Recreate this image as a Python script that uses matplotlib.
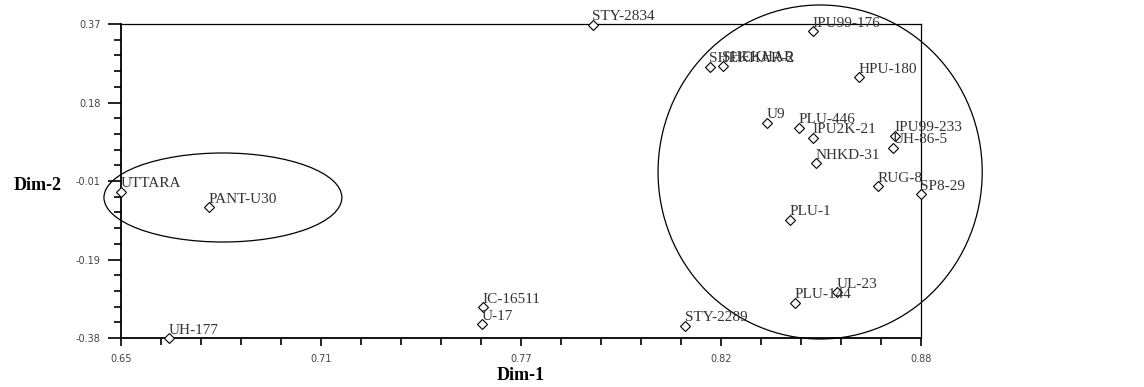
import numpy as np
import matplotlib.pyplot as plt
from matplotlib.patches import Ellipse
from matplotlib.ticker import AutoMinorLocator

# genotype scores on the first two dimensions
names = ['STY-2834', 'IPU99-176', 'SHEKHAR-2', 'SHEKHAR', 'HPU-180', 'U9', 'PLU-446',
         'IPU2K-21', 'IPU99-233', 'UH-86-5', 'NHKD-31', 'RUG-8', 'SP8-29', 'PLU-1',
         'UL-23', 'PLU-144', 'STY-2289', 'IC-16511', 'U-17', 'UH-177', 'UTTARA', 'PANT-U30']
dim1 = [0.7857, 0.8490, 0.8193, 0.8230, 0.8622, 0.8357, 0.8449,
        0.8490, 0.8725, 0.8720, 0.8498, 0.8676, 0.8800, 0.8423,
        0.8559, 0.8438, 0.8122, 0.7541, 0.7538, 0.6638, 0.6500, 0.6753]
dim2 = [0.368, 0.353, 0.268, 0.270, 0.243, 0.134, 0.122,
        0.098, 0.103, 0.074, 0.038, -0.017, -0.036, -0.098,
        -0.270, -0.296, -0.351, -0.306, -0.347, -0.380, -0.031, -0.067]

xticks = [0.65, 0.7075, 0.765, 0.8225, 0.88]
xlabels = ['0.65', '0.71', '0.77', '0.82', '0.88']
yticks = [-0.38, -0.1925, -0.005, 0.1825, 0.37]
ylabels = ['-0.38', '-0.19', '-0.01', '0.18', '0.37']

# groups circled in the plot: (centre x, centre y, width, height)
groups = [(0.6793, -0.0444, 0.0684, 0.2126),
          (0.8510, 0.0165, 0.0932, 0.7978)]

serif = 'Liberation Serif'

fig = plt.figure(figsize=(11.44, 3.87), dpi=100)
ax = fig.add_axes([121/1144, 49/387, 800/1144, 314/387])

ax.plot(dim1, dim2, 'D', ms=5.2, mfc='white', mec='black', mew=0.8,
        clip_on=False, zorder=4)
for n, x, y in zip(names, dim1, dim2):
    ax.annotate(n, (x, y), xytext=(-0.4, 3.2), textcoords='offset points',
                ha='left', va='baseline', fontsize=11, family=serif,
                color='#333333', annotation_clip=False, zorder=5)

for cx, cy, w, h in groups:
    ax.add_patch(Ellipse((cx, cy), w, h, fill=False, ec='black', lw=0.9,
                         clip_on=False, zorder=3))

ax.set_xlim(0.65, 0.88)
ax.set_ylim(-0.38, 0.37)
ax.set_xticks(xticks)
ax.set_xticklabels(xlabels)
ax.set_yticks(yticks)
ax.set_yticklabels(ylabels)
ax.xaxis.set_minor_locator(AutoMinorLocator(5))
ax.yaxis.set_minor_locator(AutoMinorLocator(5))

ax.tick_params(axis='x', which='major', length=5.5, width=1.2, pad=6,
               labelsize=7, labelcolor='#444444')
ax.tick_params(axis='x', which='minor', length=5, width=1.2)
ax.tick_params(axis='y', which='major', length=9.5, width=1.2, pad=5,
               labelsize=7, labelcolor='#444444')
ax.tick_params(axis='y', which='minor', length=5, width=1.2)

ax.spines['left'].set_linewidth(1.3)
ax.spines['bottom'].set_linewidth(1.3)
ax.spines['top'].set_linewidth(0.9)
ax.spines['right'].set_linewidth(0.9)

ax.set_xlabel('Dim-1', family=serif, fontweight='bold', fontsize=13,
              va='center')
ax.xaxis.set_label_coords(0.5, -0.12)
ax.set_ylabel('Dim-2', family=serif, fontweight='bold', fontsize=13,
              rotation=0, ha='right', va='center')
ax.yaxis.set_label_coords(-0.074, 0.487)

fig.savefig('out.png', dpi=100)
